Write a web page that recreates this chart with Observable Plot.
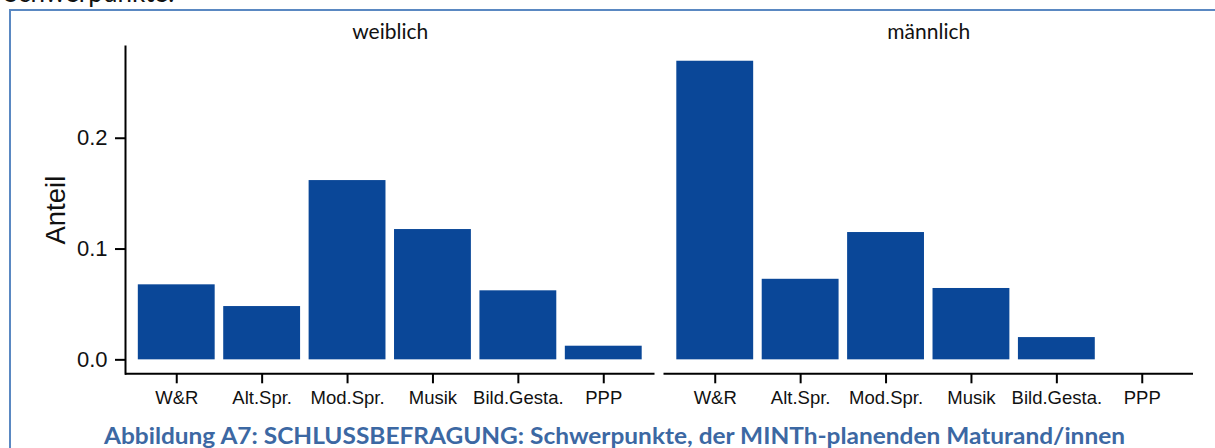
<!DOCTYPE html>
<html><head><meta charset="utf-8">
<script src="https://cdn.jsdelivr.net/npm/d3@7"></script>
<script src="https://cdn.jsdelivr.net/npm/@observablehq/plot@0.6"></script>
<style>
html,body{margin:0;padding:0;background:#fff;}
#wrap{position:relative;width:1215px;height:448px;overflow:hidden;background:#fff;}
#box{position:absolute;left:9px;top:9px;width:1230px;height:460px;border-left:2px solid #5a88c2;border-top:2px solid #5a88c2;}
#top{position:absolute;left:4px;top:-24px;font:26px Lato;color:#111;white-space:nowrap;}
#chart{position:absolute;left:0;top:0;}
#cap{position:absolute;left:104px;top:425px;font:bold 22px Lato;color:#3c68a3;white-space:nowrap;transform-origin:0 0;line-height:1;}
</style></head>
<body>
<div id="wrap">
  <div id="box"></div>
  <div id="top">Schwerpunkte:</div>
  <div id="chart"></div>
  <div id="cap">Abbildung A7: SCHLUSSBEFRAGUNG: Schwerpunkte, der MINTh-planenden Maturand/innen</div>
</div>
<script>
const sexes = ["weiblich", "männlich"];
const categories = ["W&R", "Alt.Spr.", "Mod.Spr.", "Musik", "Bild.Gesta.", "PPP"];
const weiblich = [0.0677, 0.0481, 0.1618, 0.1176, 0.0623, 0.0123];
const maennlich = [0.2695, 0.0727, 0.1149, 0.0644, 0.0201, 0.0];
const yTicks = [0, 0.1, 0.2];
const yLabel = "Anteil";

const rows = [];
categories.forEach((c, i) => rows.push({sex: sexes[0], cat: c, value: weiblich[i]}));
categories.forEach((c, i) => rows.push({sex: sexes[1], cat: c, value: maennlich[i]}));

const H = 412;
const yMin = -0.0126, yMax = 0.2828;
const axisFont = "'Liberation Sans', Arial, Helvetica, sans-serif";

const chart = Plot.plot({
  width: 1215,
  height: H,
  marginLeft: 125,
  marginRight: 22,
  marginTop: 46,
  marginBottom: H - 373.3,
  style: {fontFamily: axisFont, color: "#111", background: "transparent", overflow: "visible"},
  fx: {domain: sexes, paddingInner: 0.0167, paddingOuter: 0, round: false, axis: null, label: null},
  x: {domain: categories, paddingInner: 0.1, paddingOuter: 0.15, round: false, axis: null, label: null},
  y: {domain: [yMin, yMax], axis: null, label: null},
  marks: [
    Plot.barY(rows, {fx: "sex", x: "cat", y: "value", fill: "#0a4798"}),
    Plot.ruleY([yMin], {stroke: "#000", strokeWidth: 2}),
    Plot.frame({anchor: "left", facetAnchor: "left", stroke: "#000", strokeWidth: 2}),
    Plot.axisY({ticks: yTicks, tickSize: 10, tickPadding: 8, tickFormat: d3.format(".1f"),
      fontSize: 22, strokeWidth: 2, stroke: "#000", label: null, facetAnchor: "left"}),
    Plot.axisX({tickSize: 10, tickPadding: 7.5, fontSize: 18.5, strokeWidth: 2, stroke: "#000", label: null}),
    Plot.text(sexes, {fx: d => d, text: d => d, frameAnchor: "top", dy: -14, lineAnchor: "middle",
      fontSize: 21, fontFamily: "Lato", fill: "#111"}),
    Plot.text([yLabel], {fx: () => sexes[0], text: d => d, frameAnchor: "left", rotate: -90, dx: -69,
      lineAnchor: "middle", textAnchor: "middle", fontSize: 27.5, fill: "#111"})
  ]
});
document.getElementById("chart").appendChild(chart);

const cap = document.getElementById("cap");
const w = cap.getBoundingClientRect().width;
cap.style.transform = `scaleX(${1021 / w})`;
</script>
</body></html>
